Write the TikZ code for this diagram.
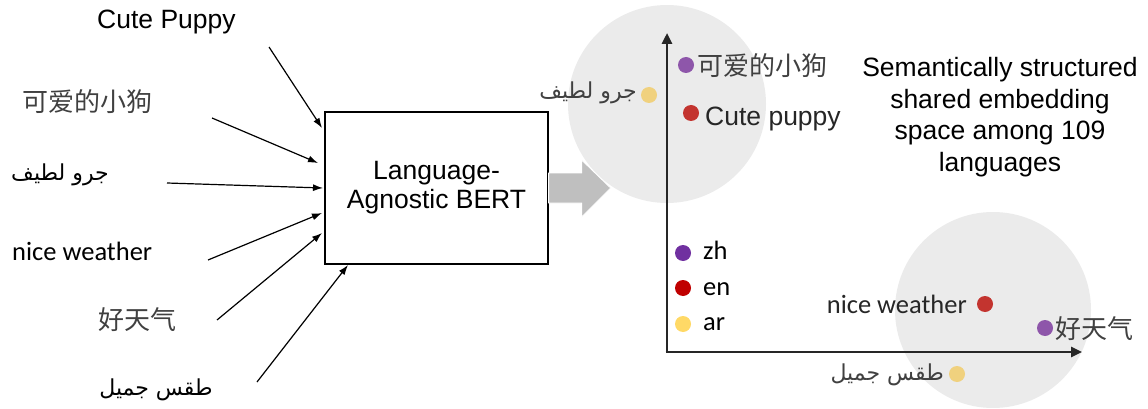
\documentclass[tikz,border=0pt]{standalone}
\usepackage{fontspec}
\setmainfont{Liberation Sans}
\newfontfamily\cjk{Noto Sans CJK SC}
\newfontfamily\carlito{Carlito}
\newfontfamily\arabicfont[Script=Arabic]{DejaVu Sans}
\TeXXeTstate=1
\usetikzlibrary{arrows.meta,calc}
\definecolor{bgcirc}{HTML}{EBEBEB}
\definecolor{arrowgray}{HTML}{BFBFBF}
\definecolor{dotpurple}{HTML}{8E56AA}
\definecolor{dotred}{HTML}{C3342F}
\definecolor{dotyellow}{HTML}{F0D17E}
\definecolor{legpurple}{HTML}{7030A0}
\definecolor{legred}{HTML}{C00000}
\definecolor{legyellow}{HTML}{FFD966}
\definecolor{txtgray}{HTML}{404040}
\definecolor{axiscol}{HTML}{262626}
\newcommand{\bigfont}{\fontsize{26.5}{29}\selectfont}
\newcommand{\arfont}{\arabicfont\fontsize{22}{25}\selectfont}
\tikzset{
  inarrow/.style={line width=1.2pt, -{Latex[length=10pt,width=7pt]}},
  axisline/.style={line width=2.6pt, draw=axiscol, -{Triangle[length=11pt,width=10pt]}},
  dot/.style={circle, inner sep=0pt, minimum size=16pt},
  lab/.style={inner sep=0pt, font=\bigfont},
  cjklab/.style={inner sep=0pt, font=\cjk\fontsize{26}{30}\selectfont, text=txtgray},
  arlab/.style={inner sep=0pt, font=\arfont},
  callab/.style={inner sep=0pt, font=\carlito\fontsize{26.5}{30}\selectfont},
  cloud/.style={circle, fill=bgcirc, inner sep=0pt},
}
\begin{document}
\begin{tikzpicture}[x=1pt, y={(0pt,-1pt)}]
\useasboundingbox (0,0) rectangle (1148,409);
% background clusters
\node[cloud, minimum size=198pt] (c1) at (667,104) {};
\node[cloud, minimum size=196pt] (c2) at (993,310) {};
% main box
\node[draw, line width=1.2pt, minimum width=223pt, minimum height=152pt, align=center, font=\bigfont, inner sep=0pt] (box) at (436.5,188) {Language-\\Agnostic BERT};
% left labels
\node[lab, anchor=base west] (l1) at (97,29) {Cute Puppy};
\node[cjklab, anchor=center] (l2) at (87,102) {可爱的小狗};
\node[arlab, anchor=center] (l3) at (60,175) {\beginR جرو لطيف\endR};
\node[callab, anchor=base west] (l4) at (12,260) {nice weather};
\node[cjklab, anchor=center] (l5) at (137,320) {好天气};
\node[arlab, anchor=center] (l6) at (156,390) {\beginR طقس جميل\endR};
% arrow ends
\coordinate (t1) at (269,47);  \coordinate (h1) at (322,128);
\coordinate (t2) at (212,118); \coordinate (h2) at (318,163);
\coordinate (t3) at (167,183); \coordinate (h3) at (323,188);
\coordinate (t4) at (208,260); \coordinate (h4) at (322,213);
\coordinate (t5) at (217,320); \coordinate (h5) at (322,233);
\coordinate (t6) at (257,382); \coordinate (h6) at (348,265);
\foreach \i in {1,...,6}{\draw[inarrow] (t\i) -- (h\i);}
% block arrow
\fill[arrowgray, draw=white, line width=0.8pt] (box.east) ++(0,-15) -- ++(33,0) -- ++(0,-13) -- ++(29,28) -- ++(-29,29) -- ++(0,-14) -- ++(-33,0) -- cycle;
% axes
\coordinate (origin) at (667,352);
\coordinate (ytip) at (667,33);
\coordinate (xtip) at (1082,352);
\draw[axisline] (origin) -- (ytip);
\draw[axisline] ([xshift=-1.3pt]origin) -- (xtip);
% upper cluster points
\node[dot, fill=dotpurple] (p1) at (686,65) {};
\node[cjklab, anchor=west] (p1l) at (697,66) {可爱的小狗};
\node[dot, fill=dotyellow] (p2) at (649,95) {};
\node[arlab, text=txtgray, anchor=east] (p2l) at (637,93) {\beginR جرو لطيف\endR};
\node[dot, fill=dotred] (p3) at (691,113) {};
\node[lab, text=axiscol, anchor=base west] (p3l) at (705,125) {Cute puppy};
% lower cluster points
\node[dot, fill=dotred] (q1) at (985,304) {};
\node[callab, text=axiscol, anchor=base east] (q1l) at (967,313) {nice weather};
\node[dot, fill=dotpurple] (q2) at (1045,328) {};
\node[cjklab, anchor=west] (q2l) at (1055,329) {好天气};
\node[dot, fill=dotyellow] (q3) at (957,374) {};
\node[arlab, text=txtgray, anchor=east] (q3l) at (944,375) {\beginR طقس جميل\endR};
% legend
\node[dot, fill=legpurple] (g1) at (683,253) {};
\node[callab, anchor=base west] (g1l) at (703,259) {zh};
\node[dot, fill=legred] (g2) at (683,288) {};
\node[callab, anchor=base west] (g2l) at (703,295) {en};
\node[dot, fill=legyellow] (g3) at (683,324) {};
\node[callab, anchor=base west] (g3l) at (703,330) {ar};
% caption
\node[lab, align=center, font=\fontsize{26.5}{31.7}\selectfont] (cap) at (1000,117) {Semantically structured\\shared embedding\\space among 109\\languages};
\end{tikzpicture}
\end{document}
